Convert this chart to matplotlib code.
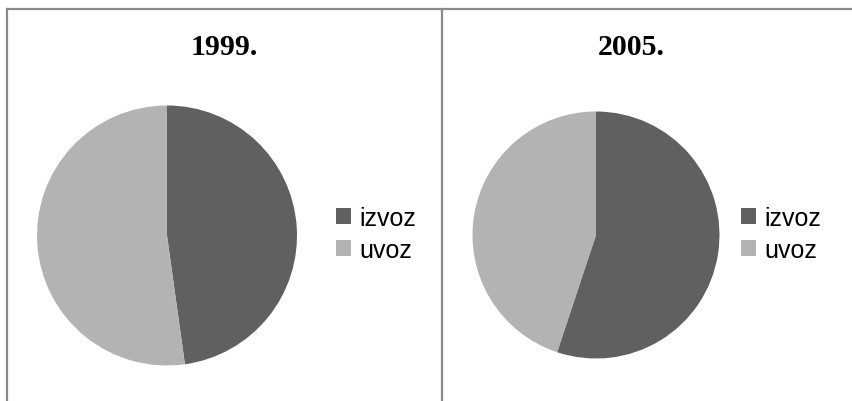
import matplotlib
matplotlib.use("Agg")
import matplotlib.pyplot as plt
from matplotlib.lines import Line2D
from matplotlib.patches import Patch
from matplotlib import font_manager

years = ["1999.", "2005."]
labels = ["izvoz", "uvoz"]
izvoz = [47.8, 55.1]
uvoz = [52.2, 44.9]
colors = ["#606060", "#b3b3b3"]

W, H = 853, 402
fig = plt.figure(figsize=(W / 100, H / 100), dpi=100)
fig.patch.set_facecolor("white")

names = {f.name for f in font_manager.fontManager.ttflist}
narrow = "Liberation Sans Narrow" in names
sans = ["Liberation Sans Narrow", "DejaVu Sans"] if narrow else ["Liberation Sans", "DejaVu Sans"]
lsize = 19.5 if narrow else 18

def px(x, y):
    return x / W, 1 - y / H

# borders
bc = "#8a8a8a"
for (x0, y0, x1, y1) in [(7, 10, 853, 10), (7, 10, 7, 402), (442, 10, 442, 402)]:
    a, b = px(x0, y0)
    c, d = px(x1, y1)
    fig.add_artist(Line2D([a, c], [b, d], transform=fig.transFigure, color=bc, lw=1.6))

# pies: (center x, center y, radius) in pixels
pies = [(167, 236.5, 130), (596, 236, 123.5)]
title_x = [224, 631]
legend_x = [336, 741]

for i in range(2):
    cx, cy, r = pies[i]
    ax = fig.add_axes([(cx - r) / W, 1 - (cy + r) / H, 2 * r / W, 2 * r / H])
    wedges, _ = ax.pie([izvoz[i], uvoz[i]], colors=colors, startangle=90, counterclock=False,
                       wedgeprops=dict(linewidth=0))
    ax.set_aspect("auto")
    ax.set_xlim(-1, 1)
    ax.set_ylim(-1, 1)
    tx, ty = px(title_x[i], 47.5)
    fig.text(tx, ty, years[i], ha="center", va="center", fontsize=21.5, fontweight="bold",
             family=["Liberation Serif", "DejaVu Serif"])
    lx, ly = px(legend_x[i], 207)
    handles = [Patch(facecolor=colors[j], edgecolor="none") for j in range(2)]
    fig.legend(handles, labels, loc="upper left", bbox_to_anchor=(lx, ly),
               bbox_transform=fig.transFigure, frameon=False, borderpad=0, borderaxespad=0,
               handlelength=0.6, handleheight=0.6, handletextpad=0.35, labelspacing=0.32,
               prop=dict(family=sans, size=lsize))

fig.savefig("out.png", dpi=100, facecolor="white")
